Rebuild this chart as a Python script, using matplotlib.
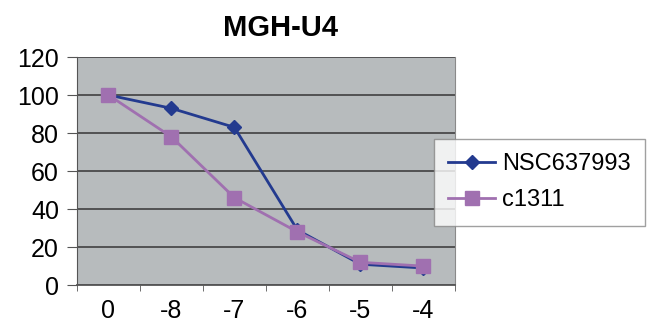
import numpy as np
import matplotlib
matplotlib.use('Agg')
import matplotlib.pyplot as plt

# dados
categorias = ['0', '-8', '-7', '-6', '-5', '-4']
nsc637993 = [100, 93, 83, 29, 11, 9]
c1311 = [100, 78, 46, 28, 12, 10]

plt.rcParams['font.family'] = ['Liberation Sans', 'DejaVu Sans']

fig = plt.figure(figsize=(6.47, 3.24), dpi=100)
ax = fig.add_axes([0.119, 0.120, 0.584, 0.704])
ax.set_facecolor('#B7BBBD')

x = np.arange(len(categorias))
l1, = ax.plot(x, nsc637993, color='#233A8F', lw=2, marker='D', ms=7,
              label='NSC637993', zorder=3)
l2, = ax.plot(x, c1311, color='#A070B0', lw=2, marker='s', ms=10,
              label='c1311', zorder=4)

ax.set_xlim(-0.5, len(categorias) - 0.5)
ax.set_ylim(0, 120)
ax.set_yticks(np.arange(0, 121, 20))
ax.set_xticks(x)
ax.set_xticklabels(categorias)
ax.set_xticks(np.arange(-0.5, len(categorias), 1), minor=True)
ax.tick_params(axis='x', which='major', length=0, pad=10, labelsize=18)
ax.tick_params(axis='x', which='minor', length=4, color='#555555', direction='out')
ax.tick_params(axis='y', length=7, color='#555555', labelsize=18, pad=6)
ax.yaxis.grid(True, color='#4A4A4A', lw=1.3)
ax.set_axisbelow(True)
ax.spines['top'].set_visible(False)
ax.spines['right'].set_color('#8A8A8A')
ax.spines['left'].set_color('#555555')
ax.spines['bottom'].set_color('#555555')
ax.spines['bottom'].set_linewidth(1.3)

fig.text(0.433, 0.915, 'MGH-U4', ha='center', va='center', fontsize=21,
         fontweight='bold')

leg = fig.legend(handles=[l1, l2], loc='upper left',
                 bbox_to_anchor=(434 / 647, 1 - 139 / 324), fontsize=17,
                 frameon=True, fancybox=False, edgecolor='#888888',
                 handlelength=2.0, handletextpad=0.3, borderpad=0.6,
                 labelspacing=0.6, borderaxespad=0)
leg.get_frame().set_linewidth(1)

fig.savefig('out.png', dpi=100)
